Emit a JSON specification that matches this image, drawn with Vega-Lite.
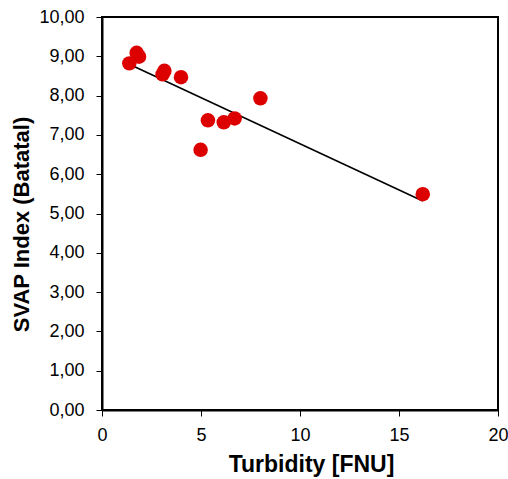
{
  "$schema": "https://vega.github.io/schema/vega-lite/v6.json",
  "autosize": "none",
  "width": 396,
  "height": 393,
  "padding": {"left": 102, "top": 17, "right": 10, "bottom": 69},
  "background": "white",
  "config": {
    "view": {"stroke": "black", "strokeWidth": 2},
    "axis": {
      "grid": false,
      "domainColor": "black",
      "tickColor": "black",
      "tickSize": 6,
      "labelFont": "Liberation Sans",
      "labelFontSize": 18,
      "labelColor": "black",
      "labelOverlap": false,
      "labelFlush": false,
      "labelBound": false,
      "titleFont": "Liberation Sans",
      "titleFontWeight": "bold",
      "titleColor": "black"
    }
  },
  "datasets": {
    "pts": [
      {"turbidity": 1.38, "svap": 8.82},
      {"turbidity": 1.75, "svap": 9.09},
      {"turbidity": 1.87, "svap": 8.99},
      {"turbidity": 3.06, "svap": 8.54},
      {"turbidity": 3.15, "svap": 8.63},
      {"turbidity": 3.99, "svap": 8.47},
      {"turbidity": 8.0, "svap": 7.93},
      {"turbidity": 5.35, "svap": 7.37},
      {"turbidity": 6.15, "svap": 7.32},
      {"turbidity": 6.7, "svap": 7.42},
      {"turbidity": 4.98, "svap": 6.62},
      {"turbidity": 16.2, "svap": 5.49}
    ],
    "trend": [
      {"turbidity": 1.38, "svap": 8.8},
      {"turbidity": 16.2, "svap": 5.32}
    ]
  },
  "encoding": {
    "x": {
      "field": "turbidity", "type": "quantitative",
      "scale": {"domain": [0, 20], "nice": false, "zero": true},
      "axis": {"values": [0, 5, 10, 15, 20], "title": "Turbidity [FNU]", "titleFontSize": 23, "titleX": 209, "labelPadding": 10, "titlePadding": 9, "domainWidth": 2}
    },
    "y": {
      "field": "svap", "type": "quantitative",
      "scale": {"domain": [0, 10], "nice": false},
      "axis": {
        "values": [0, 1, 2, 3, 4, 5, 6, 7, 8, 9, 10],
        "title": "SVAP Index (Batatal)",
        "titleFontSize": 22,
        "titleY": 207,
        "labelExpr": "replace(format(datum.value, '.2f'), '.', ',')",
        "labelPadding": 12,
        "titlePadding": 5,
        "domainWidth": 2
      }
    }
  },
  "layer": [
    {
      "data": {"name": "trend"},
      "mark": {"type": "line", "color": "black", "strokeWidth": 1.6}
    },
    {
      "data": {"name": "pts"},
      "mark": {"type": "point", "filled": true, "shape": "circle", "size": 210, "color": "#DD0000", "opacity": 1}
    }
  ]
}
